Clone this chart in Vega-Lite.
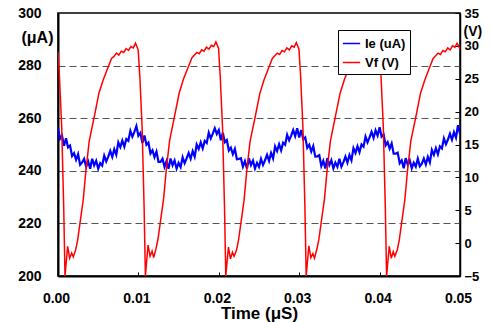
{
  "$schema": "https://vega.github.io/schema/vega-lite/v6.json",
  "width": 402,
  "height": 263,
  "autosize": "none",
  "padding": {"left": 58, "top": 13, "right": 32, "bottom": 46},
  "background": "white",
  "config": {
    "view": {"stroke": "black", "strokeWidth": 1.5},
    "font": "Liberation Sans",
    "axis": {"labelColor": "black", "titleColor": "black", "labelFontWeight": "bold", "titleFontWeight": "bold", "domainColor": "black", "tickColor": "black", "labelFlush": false}
  },
  "datasets": {
    "ie": [
      {"t":0,"ie":256.3},{"t":0.00025,"ie":252.2},{"t":0.0005,"ie":253.4},{"t":0.00075,"ie":249.5},{"t":0.001,"ie":252.4},{"t":0.00125,"ie":248.9},{"t":0.0015,"ie":249.6},{"t":0.00175,"ie":245.6},{"t":0.002,"ie":246.7},{"t":0.00225,"ie":244.2},
      {"t":0.0025,"ie":246.3},{"t":0.00275,"ie":242.3},{"t":0.003,"ie":243.2},{"t":0.00325,"ie":244.5},{"t":0.0035,"ie":241.5},{"t":0.00375,"ie":243.6},{"t":0.004,"ie":240.8},{"t":0.00425,"ie":244.6},{"t":0.0045,"ie":242.1},{"t":0.00475,"ie":243.8},
      {"t":0.005,"ie":240.8},{"t":0.00525,"ie":242.9},{"t":0.0055,"ie":242.0},{"t":0.00575,"ie":245.8},{"t":0.006,"ie":243.6},{"t":0.00625,"ie":245.4},{"t":0.0065,"ie":247.6},{"t":0.00675,"ie":245.3},{"t":0.007,"ie":248.2},{"t":0.00725,"ie":246.1},
      {"t":0.0075,"ie":250.8},{"t":0.00775,"ie":249.0},{"t":0.008,"ie":251.5},{"t":0.00825,"ie":249.2},{"t":0.0085,"ie":252.1},{"t":0.00875,"ie":251.4},{"t":0.009,"ie":255.2},{"t":0.00925,"ie":253.0},{"t":0.0095,"ie":254.8},{"t":0.00975,"ie":257.0},
      {"t":0.01,"ie":253.3},{"t":0.01025,"ie":254.4},{"t":0.0105,"ie":250.6},{"t":0.01075,"ie":253.4},{"t":0.011,"ie":249.9},{"t":0.01125,"ie":250.7},{"t":0.0115,"ie":246.6},{"t":0.01175,"ie":247.8},{"t":0.012,"ie":245.2},{"t":0.01225,"ie":247.3},
      {"t":0.0125,"ie":243.4},{"t":0.01275,"ie":243.4},{"t":0.013,"ie":244.6},{"t":0.01325,"ie":241.5},{"t":0.0135,"ie":243.7},{"t":0.01375,"ie":240.8},{"t":0.014,"ie":244.7},{"t":0.01425,"ie":242.1},{"t":0.0145,"ie":243.9},{"t":0.01475,"ie":240.8},
      {"t":0.015,"ie":243.0},{"t":0.01525,"ie":241.4},{"t":0.0155,"ie":245.1},{"t":0.01575,"ie":242.9},{"t":0.016,"ie":244.7},{"t":0.01625,"ie":246.8},{"t":0.0165,"ie":244.6},{"t":0.01675,"ie":247.5},{"t":0.017,"ie":245.4},{"t":0.01725,"ie":250.0},
      {"t":0.0175,"ie":248.3},{"t":0.01775,"ie":250.8},{"t":0.018,"ie":248.5},{"t":0.01825,"ie":251.4},{"t":0.0185,"ie":250.6},{"t":0.01875,"ie":254.5},{"t":0.019,"ie":252.3},{"t":0.01925,"ie":254.1},{"t":0.0195,"ie":256.2},{"t":0.01975,"ie":254.0},
      {"t":0.02,"ie":255.5},{"t":0.02025,"ie":251.6},{"t":0.0205,"ie":254.5},{"t":0.02075,"ie":250.9},{"t":0.021,"ie":251.7},{"t":0.02125,"ie":247.7},{"t":0.0215,"ie":248.8},{"t":0.02175,"ie":246.3},{"t":0.022,"ie":248.3},{"t":0.02225,"ie":244.4},
      {"t":0.0225,"ie":244.5},{"t":0.02275,"ie":244.8},{"t":0.023,"ie":241.6},{"t":0.02325,"ie":243.7},{"t":0.0235,"ie":240.9},{"t":0.02375,"ie":244.7},{"t":0.024,"ie":242.2},{"t":0.02425,"ie":243.9},{"t":0.0245,"ie":240.9},{"t":0.02475,"ie":243.0},
      {"t":0.025,"ie":241.5},{"t":0.02525,"ie":244.5},{"t":0.0255,"ie":242.2},{"t":0.02575,"ie":244.0},{"t":0.026,"ie":246.1},{"t":0.02625,"ie":243.8},{"t":0.0265,"ie":246.8},{"t":0.02675,"ie":244.7},{"t":0.027,"ie":249.3},{"t":0.02725,"ie":247.5},
      {"t":0.0275,"ie":250.1},{"t":0.02775,"ie":247.8},{"t":0.028,"ie":250.7},{"t":0.02825,"ie":249.9},{"t":0.0285,"ie":253.7},{"t":0.02875,"ie":251.6},{"t":0.029,"ie":253.4},{"t":0.02925,"ie":255.5},{"t":0.0295,"ie":253.2},{"t":0.02975,"ie":256.2},
      {"t":0.03,"ie":252.7},{"t":0.03025,"ie":255.5},{"t":0.0305,"ie":252.0},{"t":0.03075,"ie":252.7},{"t":0.031,"ie":248.7},{"t":0.03125,"ie":249.9},{"t":0.0315,"ie":247.3},{"t":0.03175,"ie":249.4},{"t":0.032,"ie":245.4},{"t":0.03225,"ie":245.5},
      {"t":0.0325,"ie":245.9},{"t":0.03275,"ie":241.8},{"t":0.033,"ie":243.8},{"t":0.03325,"ie":240.9},{"t":0.0335,"ie":244.8},{"t":0.03375,"ie":242.2},{"t":0.034,"ie":244.0},{"t":0.03425,"ie":240.9},{"t":0.0345,"ie":243.1},{"t":0.03475,"ie":241.5},
      {"t":0.035,"ie":244.6},{"t":0.03525,"ie":241.6},{"t":0.0355,"ie":243.3},{"t":0.03575,"ie":245.4},{"t":0.036,"ie":243.1},{"t":0.03625,"ie":246.0},{"t":0.0365,"ie":244.0},{"t":0.03675,"ie":248.6},{"t":0.037,"ie":246.8},{"t":0.03725,"ie":249.3},
      {"t":0.0375,"ie":247.1},{"t":0.03775,"ie":250.0},{"t":0.038,"ie":249.2},{"t":0.03825,"ie":253.0},{"t":0.0385,"ie":250.8},{"t":0.03875,"ie":252.7},{"t":0.039,"ie":254.8},{"t":0.03925,"ie":252.5},{"t":0.0395,"ie":255.4},{"t":0.03975,"ie":253.4},
      {"t":0.04,"ie":256.6},{"t":0.04025,"ie":253.0},{"t":0.0405,"ie":253.8},{"t":0.04075,"ie":249.7},{"t":0.041,"ie":250.9},{"t":0.04125,"ie":248.4},{"t":0.0415,"ie":250.4},{"t":0.04175,"ie":246.5},{"t":0.042,"ie":246.5},{"t":0.04225,"ie":246.9},
      {"t":0.0425,"ie":242.9},{"t":0.04275,"ie":244.0},{"t":0.043,"ie":241.0},{"t":0.04325,"ie":244.8},{"t":0.0435,"ie":242.3},{"t":0.04375,"ie":244.0},{"t":0.044,"ie":241.0},{"t":0.04425,"ie":243.1},{"t":0.0445,"ie":241.6},{"t":0.04475,"ie":244.6},
      {"t":0.045,"ie":241.7},{"t":0.04525,"ie":242.7},{"t":0.0455,"ie":244.7},{"t":0.04575,"ie":242.4},{"t":0.046,"ie":245.3},{"t":0.04625,"ie":243.2},{"t":0.0465,"ie":247.9},{"t":0.04675,"ie":246.1},{"t":0.047,"ie":248.6},{"t":0.04725,"ie":246.3},
      {"t":0.0475,"ie":249.3},{"t":0.04775,"ie":248.5},{"t":0.048,"ie":252.3},{"t":0.04825,"ie":250.1},{"t":0.0485,"ie":251.9},{"t":0.04875,"ie":254.1},{"t":0.049,"ie":251.8},{"t":0.04925,"ie":254.7},{"t":0.0495,"ie":252.6},{"t":0.04975,"ie":257.3},
      {"t":0.05,"ie":254.1}
    ],
    "vf": [
      {"t":0,"vf":29.1},{"t":0.00018,"vf":25.3},{"t":0.00046,"vf":17.7},{"t":0.00071,"vf":5.5},
      {"t":0.00087,"vf":-5},{"t":0.0012,"vf":-0.5},{"t":0.00145,"vf":-2.3},{"t":0.0017,"vf":-1.5},{"t":0.0019,"vf":-2.1},{"t":0.0022,"vf":-1.0},{"t":0.00245,"vf":0.5},{"t":0.00273,"vf":3.0},{"t":0.00314,"vf":6.6},{"t":0.00347,"vf":11.0},
      {"t":0.00388,"vf":15.5},{"t":0.00459,"vf":19.7},{"t":0.00509,"vf":22.8},{"t":0.00562,"vf":24.8},{"t":0.00624,"vf":26.8},{"t":0.00666,"vf":28.1},{"t":0.00697,"vf":28.4},{"t":0.00727,"vf":28.9},{"t":0.00757,"vf":28.6},{"t":0.00787,"vf":29.2},
      {"t":0.00817,"vf":29.0},{"t":0.00847,"vf":29.6},{"t":0.00877,"vf":29.3},{"t":0.00907,"vf":29.9},{"t":0.00937,"vf":29.7},{"t":0.00964,"vf":30.4},{"t":0.00997,"vf":29.4},{"t":0.01018,"vf":25.3},{"t":0.01046,"vf":17.7},{"t":0.01071,"vf":5.5},
      {"t":0.01087,"vf":-5},{"t":0.0112,"vf":-0.3},{"t":0.01145,"vf":-2.0},{"t":0.0117,"vf":-1.2},{"t":0.0119,"vf":-2.2},{"t":0.0122,"vf":-0.8},{"t":0.01245,"vf":0.7},{"t":0.01273,"vf":3.2},{"t":0.01314,"vf":6.8},{"t":0.01347,"vf":11.2},
      {"t":0.01388,"vf":15.6},{"t":0.01459,"vf":19.9},{"t":0.01509,"vf":22.9},{"t":0.01562,"vf":25.0},{"t":0.01624,"vf":26.9},{"t":0.01666,"vf":28.2},{"t":0.01697,"vf":28.6},{"t":0.01727,"vf":29.0},{"t":0.01757,"vf":28.8},{"t":0.01787,"vf":29.4},
      {"t":0.01817,"vf":29.2},{"t":0.01847,"vf":29.8},{"t":0.01877,"vf":29.5},{"t":0.01907,"vf":30.1},{"t":0.01937,"vf":29.9},{"t":0.01964,"vf":30.6},{"t":0.01997,"vf":29.6},{"t":0.02018,"vf":25.3},{"t":0.02046,"vf":17.7},{"t":0.02071,"vf":5.5},
      {"t":0.02087,"vf":-5},{"t":0.0212,"vf":-0.6},{"t":0.02145,"vf":-2.4},{"t":0.0217,"vf":-1.4},{"t":0.0219,"vf":-2.0},{"t":0.0222,"vf":-1.1},{"t":0.02245,"vf":0.4},{"t":0.02273,"vf":2.9},{"t":0.02314,"vf":6.5},{"t":0.02347,"vf":10.9},
      {"t":0.02388,"vf":15.4},{"t":0.02459,"vf":19.6},{"t":0.02509,"vf":22.7},{"t":0.02562,"vf":24.8},{"t":0.02624,"vf":26.8},{"t":0.02666,"vf":28.1},{"t":0.02697,"vf":28.5},{"t":0.02727,"vf":28.9},{"t":0.02757,"vf":28.7},{"t":0.02787,"vf":29.3},
      {"t":0.02817,"vf":29.1},{"t":0.02847,"vf":29.7},{"t":0.02877,"vf":29.4},{"t":0.02907,"vf":30.0},{"t":0.02937,"vf":29.8},{"t":0.02964,"vf":30.5},{"t":0.02997,"vf":29.5},{"t":0.03018,"vf":25.3},{"t":0.03046,"vf":17.7},{"t":0.03071,"vf":5.5},
      {"t":0.03087,"vf":-5},{"t":0.0312,"vf":-0.4},{"t":0.03145,"vf":-2.2},{"t":0.0317,"vf":-1.6},{"t":0.0319,"vf":-2.3},{"t":0.0322,"vf":-0.9},{"t":0.03245,"vf":0.6},{"t":0.03273,"vf":3.1},{"t":0.03314,"vf":6.7},{"t":0.03347,"vf":11.1},
      {"t":0.03388,"vf":15.5},{"t":0.03459,"vf":19.8},{"t":0.03509,"vf":22.8},{"t":0.03562,"vf":24.9},{"t":0.03624,"vf":26.8},{"t":0.03666,"vf":28.1},{"t":0.03697,"vf":28.4},{"t":0.03727,"vf":28.8},{"t":0.03757,"vf":28.6},{"t":0.03787,"vf":29.1},
      {"t":0.03817,"vf":29.0},{"t":0.03847,"vf":29.5},{"t":0.03877,"vf":29.3},{"t":0.03907,"vf":29.8},{"t":0.03937,"vf":29.6},{"t":0.03964,"vf":30.3},{"t":0.03997,"vf":29.4},{"t":0.04018,"vf":25.3},{"t":0.04046,"vf":17.7},{"t":0.04071,"vf":5.5},
      {"t":0.04087,"vf":-5},{"t":0.0412,"vf":-0.5},{"t":0.04145,"vf":-2.3},{"t":0.0417,"vf":-1.3},{"t":0.0419,"vf":-2.0},{"t":0.0422,"vf":-1.0},{"t":0.04245,"vf":0.5},{"t":0.04273,"vf":3.0},{"t":0.04314,"vf":6.6},{"t":0.04347,"vf":11.0},
      {"t":0.04388,"vf":15.5},{"t":0.04459,"vf":19.7},{"t":0.04509,"vf":22.8},{"t":0.04562,"vf":24.8},{"t":0.04624,"vf":26.8},{"t":0.04666,"vf":28.1},{"t":0.04697,"vf":28.5},{"t":0.04727,"vf":28.9},{"t":0.04757,"vf":28.7},{"t":0.04787,"vf":29.3},
      {"t":0.04817,"vf":29.1},{"t":0.04847,"vf":29.7},{"t":0.04877,"vf":29.4},{"t":0.04907,"vf":30.0},{"t":0.04937,"vf":29.8},{"t":0.04964,"vf":30.4},{"t":0.04997,"vf":29.6},{"t":0.05,"vf":29.2}
    ]
  },
  "encoding": {
    "x": {
      "field": "t", "type": "quantitative",
      "scale": {"domain": [0, 0.05], "nice": false, "zero": false},
      "axis": {
        "values": [0, 0.01, 0.02, 0.03, 0.04, 0.05], "format": ".2f",
        "title": "Time (μS)", "titleFontSize": 17, "titlePadding": 0,
        "labelFontSize": 14, "labelPadding": 19, "labelOffset": -2,
        "tickSize": -4, "tickWidth": 1,
        "domainWidth": 2, "grid": false
      }
    }
  },
  "layer": [
    {
      "data": {"name": "ie"},
      "mark": {"type": "line", "strokeWidth": 2.2, "clip": true},
      "encoding": {
        "y": {
          "field": "ie", "type": "quantitative",
          "scale": {"domain": [200, 300], "nice": false, "zero": false},
          "axis": {
            "orient": "left", "values": [200, 220, 240, 260, 280, 300],
            "title": "(μA)", "titleAngle": 0, "titleAlign": "right", "titleBaseline": "middle",
            "titleX": -5, "titleY": 24, "titleFontSize": 16,
            "labelFontSize": 14, "labelPadding": 17, "ticks": false,
            "domainWidth": 2,
            "grid": true, "gridDash": [7, 4], "gridColor": "#555555", "gridWidth": 1.2,
            "gridOpacity": {"condition": {"test": "datum.value == 200 || datum.value == 300", "value": 0}, "value": 1}
          }
        },
        "color": {
          "datum": "Ie (uA)", "type": "nominal",
          "scale": {"domain": ["Ie (uA)", "Vf (V)"], "range": ["#0000ff", "#ff0000"]},
          "legend": {
            "orient": "none", "legendX": 280, "legendY": 17, "title": null,
            "symbolType": "stroke", "symbolSize": 300, "symbolStrokeWidth": 1.5,
            "labelFontSize": 13, "labelFontWeight": "bold", "labelColor": "black", "labelFont": "Liberation Sans",
            "strokeColor": "black", "fillColor": "white", "padding": 4, "rowPadding": 2, "labelOffset": 4
          }
        }
      }
    },
    {
      "data": {"name": "vf"},
      "mark": {"type": "line", "strokeWidth": 1.5, "clip": true},
      "encoding": {
        "y": {
          "field": "vf", "type": "quantitative",
          "scale": {"domain": [-5, 35], "nice": false, "zero": false},
          "axis": {
            "orient": "right", "values": [-5, 0, 5, 10, 15, 20, 25, 30, 35],
            "title": "(V)", "titleAngle": 0, "titleAlign": "left", "titleBaseline": "middle",
            "titleX": 3, "titleY": 18, "titleFontSize": 14,
            "labelFontSize": 13, "labelPadding": 9, "tickSize": -5, "tickWidth": 1,
            "domainWidth": 1.5, "grid": false
          }
        },
        "color": {"datum": "Vf (V)", "type": "nominal"}
      }
    }
  ],
  "resolve": {"scale": {"y": "independent"}}
}
